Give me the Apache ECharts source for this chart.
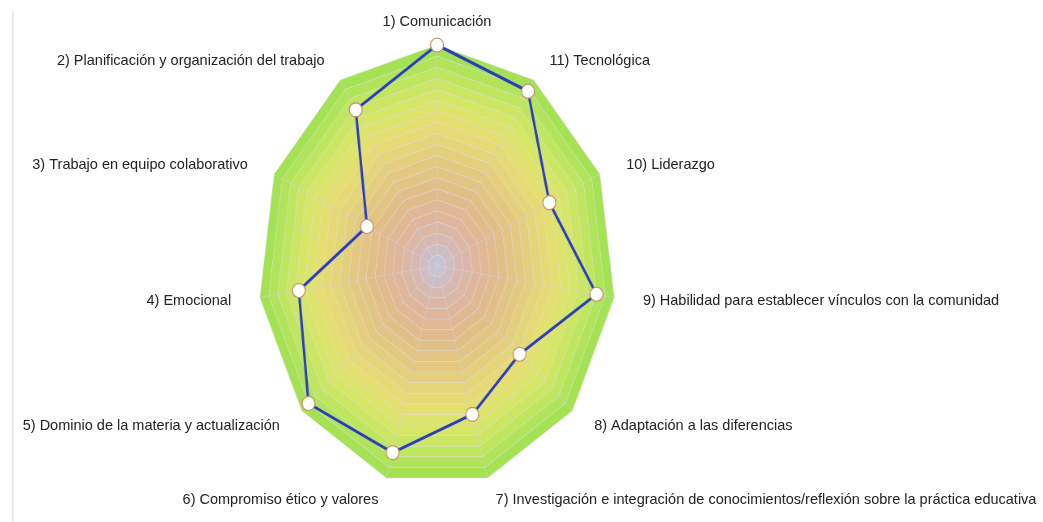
<!DOCTYPE html>
<html><head><meta charset="utf-8">
<script src="https://cdn.jsdelivr.net/npm/echarts@6/dist/echarts.min.js"></script>
<style>
html,body{margin:0;padding:0;background:#fff;width:1043px;height:522px;overflow:hidden;}
#wrap{position:relative;width:1043px;height:522px;}
#radar{position:absolute;left:0;top:0;height:522px;transform-origin:0 0;}
#labels{position:absolute;left:0;top:0;width:1043px;height:522px;pointer-events:none;}
#edge{position:absolute;left:12px;top:12px;width:2px;height:510px;background:linear-gradient(to right,#e2e2e2,#f4f4f4);}
</style></head><body>
<div id="wrap"><div id="edge"></div><div id="radar"></div><div id="labels"></div></div>
<script>
// ---- data ----
const categories = [
  "1) Comunicación",
  "2) Planificación y organización del trabajo",
  "3) Trabajo en equipo colaborativo",
  "4) Emocional",
  "5) Dominio de la materia y actualización",
  "6) Compromiso ético y valores",
  "7) Investigación e integración de conocimientos/reflexión sobre la práctica educativa",
  "8) Adaptación a las diferencias",
  "9) Habilidad para establecer vínculos con la comunidad",
  "10) Liderazgo",
  "11) Tecnológica"
];
const values = [100, 84, 43, 78, 95, 88, 70, 61, 90, 69, 94];
const maxValue = 100;

// ---- layout / style ----
const CX = 437, CY = 266, RY = 221, RX = 179;
const LX = 208, LY = 244;
const sx = RX / RY;
const ringStops = ['#c6c2d4','#d8b8b0','#e0b698','#e2bc8a','#e2c682','#e4d27a','#e6de70','#dae668','#c0e660','#a4e254'];
const SPLITS = 20;

function hex(c){return [1,3,5].map(i=>parseInt(c.substr(i,2),16));}
function mix(a,b,t){const A=hex(a),B=hex(b);return 'rgb('+A.map((v,i)=>Math.round(v+(B[i]-v)*t)).join(',')+')';}
const ringColors = [];
for (let k = 0; k < SPLITS; k++) {
  const p = k / (SPLITS - 1) * (ringStops.length - 1);
  const j = Math.min(Math.floor(p), ringStops.length - 2);
  ringColors.push(mix(ringStops[j], ringStops[j + 1], p - j));
}

const radarDiv = document.getElementById('radar');
radarDiv.style.width = (1043 / sx) + 'px';
radarDiv.style.transform = 'scaleX(' + sx + ')';

const chart = echarts.init(radarDiv, null, {renderer: 'canvas'});
chart.setOption({
  animation: false,
  radar: {
    center: [CX / sx, CY],
    radius: RY,
    startAngle: 90,
    splitNumber: SPLITS,
    shape: 'polygon',
    indicator: categories.map(n => ({name: n, max: maxValue, min: 0})),
    axisName: {show: false},
    axisLine: {lineStyle: {color: 'rgba(210,210,220,0.55)', width: 1}},
    splitLine: {lineStyle: {color: 'rgba(215,215,225,0.45)', width: 1}},
    splitArea: {show: true, areaStyle: {color: ringColors}},
    axisTick: {show: false},
    axisLabel: {show: false}
  },
  series: [{
    type: 'radar',
    symbol: 'circle',
    symbolSize: [16, 14],
    lineStyle: {color: '#2a3cc0', width: 3},
    itemStyle: {color: '#ffffff', borderColor: '#c49060', borderWidth: 1.2},
    data: [{value: values}]
  }]
});

const labelChart = echarts.init(document.getElementById('labels'), null, {renderer: 'canvas'});
const n = categories.length;
labelChart.setOption({
  animation: false,
  graphic: categories.map((name, i) => {
    const a = (90 + i * 360 / n) * Math.PI / 180;
    const c = Math.cos(a), s = Math.sin(a);
    const al = Math.abs(c) < 0.01 ? 'center' : (c > 0 ? 'left' : 'right');
    return {
      type: 'text',
      x: CX + LX * c,
      y: CY - LY * s,
      style: {
        text: name,
        fill: '#222222',
        font: '14.5px "Liberation Sans", Arial, sans-serif',
        align: al, textAlign: al,
        verticalAlign: 'middle', textVerticalAlign: 'middle'
      }
    };
  })
});
</script>
</body></html>
